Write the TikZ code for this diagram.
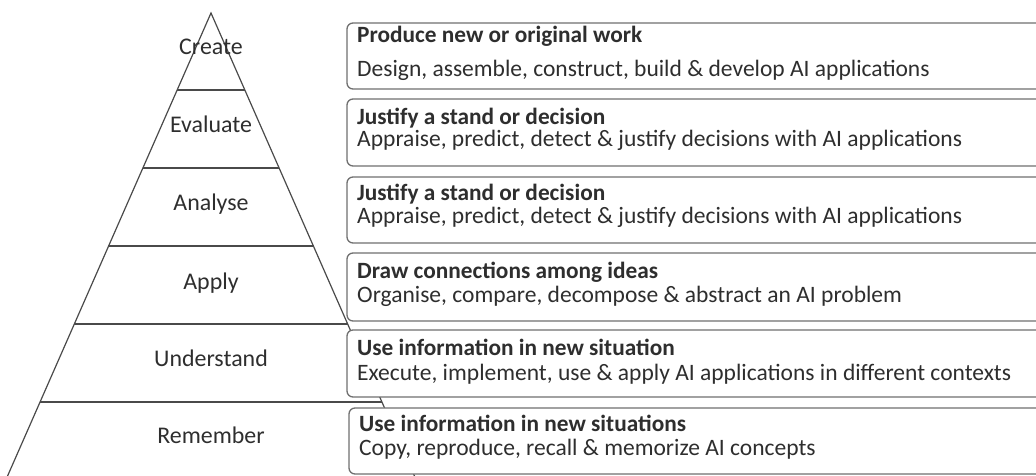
\documentclass[tikz,border=0pt]{standalone}
\usepackage{fontspec}
\setmainfont{Carlito}
\definecolor{ink}{HTML}{2E2E2E}
\definecolor{edge}{HTML}{4A4A4A}
\definecolor{frame}{HTML}{707070}
\begin{document}
\begin{tikzpicture}[x=1bp,y=-1bp,
  level/.style={font=\fontsize{24}{27}\selectfont, text=ink, anchor=mid, inner sep=0},
  infobox/.style={draw=frame, line width=1.3bp, rounded corners=6bp, fill=white},
  head/.style={font=\fontsize{23.4}{26}\selectfont\bfseries, text=ink, anchor=mid west, inner sep=0},
  body/.style={font=\fontsize{23.6}{26}\selectfont, text=ink, anchor=mid west, inner sep=0}]
\useasboundingbox (0,0) rectangle (1036,476);
\clip (0,0) rectangle (1036,476);

% pyramid outline and layer dividers
\coordinate (apex) at (211,13);
\coordinate (bl) at (-3,500);
\coordinate (br) at (425,500);
\draw[edge, line width=1.2bp] (bl) -- (apex) -- (br);
\foreach \y in {90,168,246,324,402}
  \draw[edge, line width=1.2bp] ({211-0.44*(\y-13)},\y) -- ({211+0.44*(\y-13)},\y);

% level names
\node[level] (create)   at (211,52)  {Create};
\node[level] (evaluate) at (211,130) {Evaluate};
\node[level] (analyse)  at (211,208) {Analyse};
\node[level] (apply)    at (211,287) {Apply};
\node[level] (underst)  at (211,364) {Understand};
\node[level] (remember) at (211,441) {Remember};

% description boxes
\draw[infobox] (347,23)  rectangle (1050,89);
\draw[infobox] (347,99)  rectangle (1050,166);
\draw[infobox] (347,177) rectangle (1050,243);
\draw[infobox] (347,253) rectangle (1050,321);
\draw[infobox] (347,330) rectangle (1050,397);
\draw[infobox] (349,408) rectangle (1050,474);

\node[head] (h1) at (357,40)  {Produce new or original work};
\node[body] (b1) at (357,74)  {Design, assemble, construct, build \& develop AI applications};
\node[head] (h2) at (357,122) {Justify a stand or decision};
\node[body] (b2) at (357,144) {Appraise, predict, detect \& justify decisions with AI applications};
\node[head] (h3) at (357,198) {Justify a stand or decision};
\node[body] (b3) at (357,221) {Appraise, predict, detect \& justify decisions with AI applications};
\node[head] (h4) at (357,276) {Draw connections among ideas};
\node[body] (b4) at (357,300) {Organise, compare, decompose \& abstract an AI problem};
\node[head] (h5) at (357,353) {Use information in new situation};
\node[body] (b5) at (357,378) {Execute, implement, use \& apply AI applications in different contexts};
\node[head] (h6) at (359,429) {Use information in new situations};
\node[body] (b6) at (359,453) {Copy, reproduce, recall \& memorize AI concepts};
\end{tikzpicture}
\end{document}
